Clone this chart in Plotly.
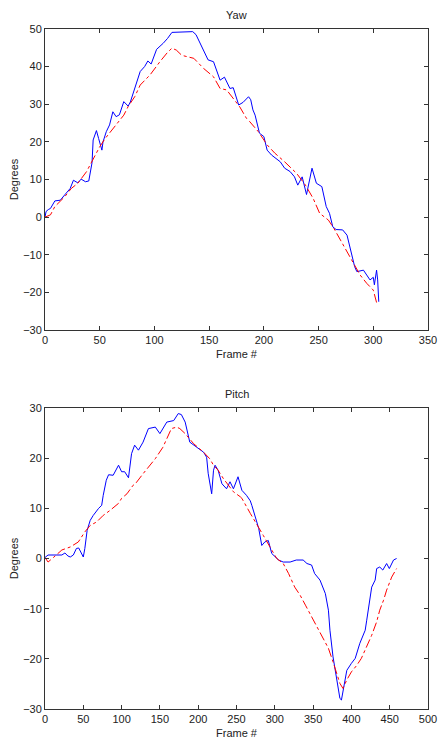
import plotly.graph_objects as go

# ---- Yaw data ----
yaw_obs_frame = [0,1,3,5,9,14,18,23,26,30,33,37,40,43,44,47,49,52,53,56,59,62,65,68,72,76,78,80,82,87,91,94,97,100,102,108,112,116,125,135,138,142,146,149,154,157,160,164,169,172,177,181,186,188,190,192,196,200,203,207,215,219,224,228,231,235,239,244,248,253,257,260,263,266,272,276,280,283,285,291,297,300,301,303,304,305]
yaw_obs_deg = [0,1.5,2,2.3,4.3,4.5,5.9,7.6,9.8,9.1,10.1,9.4,9.6,14.5,20.5,23,20.9,17.8,20,22.7,24.5,28,26.7,27.2,30.7,29.5,30.6,32.5,34,38.7,40,41.5,40.7,43,44.6,46.2,47.5,49.1,49.2,49.3,48.5,46.2,43.5,41.8,41.3,39,36.4,37.2,34.2,34.4,29.8,30.5,32,31.2,28.5,27.1,22.3,21.4,17.8,16.5,14.7,13,12.1,10.7,8.5,10.7,6,13,9,8.1,2.8,1,-2.6,-3.3,-3.4,-4.8,-9.2,-13.2,-14.5,-14.1,-16.7,-16,-18,-14.1,-16.7,-22.5]

yaw_est_frame = [0,3,5,9,18,24,30,38,44,50,55,61,67,72,76,82,87,96,105,112,116,120,125,130,136,140,145,154,160,166,172,178,184,187,195,203,210,219,230,238,245,251,259,264,270,276,282,288,294,300,303]
yaw_est_deg = [0,0.3,0.6,2.8,5.4,7.6,9,12.1,15.6,18.7,20.9,23.2,25.4,27.1,29.4,32,35.1,37.8,41.3,43.8,44.9,44.4,43,42.6,42.2,41,39.5,37.3,34.2,33.8,31.6,29.3,26.3,25.4,22.7,19.2,17,14.7,11.6,8.5,5,1,-0.8,-3,-6.1,-9.2,-12.3,-15.4,-17.6,-19.4,-22.7]

# ---- Pitch data ----
pitch_obs_frame = [0,4,22,26,30,33,37,41,44,48,50,52,55,59,63,70,74,76,80,83,89,96,100,104,109,113,117,122,128,135,144,150,159,168,174,178,183,189,198,207,211,213,217.6,220,222,226,231,237,241.5,246,252,257,263,268,270,274,279,283,287,291.5,296,305,311,320,328,337,342,348,352,359,366,370,372,376,381,385,387,389,394,400,405,411,418,420,422,426.5,431,433,437,441,446,449.5,455,459]
pitch_obs_deg = [0.2,0.7,0.7,1.1,0.5,0.3,0.7,2,2.1,0.7,0.3,2,5.6,7.6,8.6,10,10.6,12.6,15.6,16.7,16.6,18.6,17.3,17.3,16.1,20.9,22.6,21.6,23.2,25.9,26.2,24.9,27.2,27.5,28.9,28.7,27.2,23.2,22.2,21.2,20.2,17,12.9,17.6,18.6,17.6,14.9,13.9,15.3,13.9,16.3,13.6,12.6,11.5,10.6,8.6,6,2.6,3.3,3.6,1,-0.3,-0.7,-0.7,-0.3,-0.3,-1,-1.3,-3,-4.3,-7,-10.3,-14.3,-19.6,-24.2,-27.9,-28.2,-26.6,-22.3,-20.9,-19.9,-16.9,-14.3,-12.3,-10.3,-5.7,-4.3,-2,-1.7,-2.3,-1,-2,-0.3,0]

pitch_est_frame = [0,4,11,22,33,43.5,52,59,67.5,76,85,96,100,107,115,118,128,144,154,165,172,176,183,194,207,215,220,226,233,244,246,255,257,268,276,285,296,302.5,311,318,326,333,340,348,357,363,370,376,381,385,389,394,400,407,413,420,426.5,433,437,442,446,452.6,459]
pitch_est_deg = [0.2,-0.7,0.2,1.7,2.3,3.3,5.3,6.6,7.3,8.6,9.6,11,12,12.9,14.6,14.9,16.9,19.9,22.2,25.9,26.2,25.9,24.9,22.9,21.2,19.9,18.6,17.6,15.9,13.6,13.3,12.3,12,9,7,4.6,1.7,0,-1,-3,-5.7,-7.3,-9.3,-11.6,-14,-15.9,-17.9,-20.6,-22.9,-24.9,-25.9,-24.2,-22.6,-21.3,-19.9,-17.6,-15.3,-12.6,-10.3,-8.3,-6.3,-3.7,-2]

yaw_xticks = [0,50,100,150,200,250,300,350]
yaw_yticks = [-30,-20,-10,0,10,20,30,40,50]
pitch_xticks = [0,50,100,150,200,250,300,350,400,450,500]
pitch_yticks = [-30,-20,-10,0,10,20,30]

BLUE = "#0000ff"
RED = "#ff0000"
FONT = dict(family="Liberation Sans, Arial, sans-serif", size=11, color="#222222")

fig = go.Figure()
fig.add_trace(go.Scatter(x=yaw_obs_frame, y=yaw_obs_deg, mode="lines",
                         line=dict(color=BLUE, width=1), xaxis="x", yaxis="y"))
fig.add_trace(go.Scatter(x=yaw_est_frame, y=yaw_est_deg, mode="lines",
                         line=dict(color=RED, width=1, dash="dashdot"), xaxis="x", yaxis="y"))
fig.add_trace(go.Scatter(x=pitch_obs_frame, y=pitch_obs_deg, mode="lines",
                         line=dict(color=BLUE, width=1), xaxis="x2", yaxis="y2"))
fig.add_trace(go.Scatter(x=pitch_est_frame, y=pitch_est_deg, mode="lines",
                         line=dict(color=RED, width=1, dash="dashdot"), xaxis="x2", yaxis="y2"))

axis_common = dict(showgrid=False, zeroline=False, showline=True, linecolor="#333333",
                   linewidth=1, mirror="ticks", ticks="inside", ticklen=4,
                   tickcolor="#333333", tickfont=FONT, fixedrange=True, automargin=False,
                   ticklabeloverflow="allow")

fig.update_layout(
    width=438, height=740,
    margin=dict(l=45, r=10, t=29, b=31, autoexpand=False),
    paper_bgcolor="white", plot_bgcolor="white",
    showlegend=False,
    font=FONT,
    xaxis=dict(domain=[0, 1], anchor="y", range=[0, 350], tickvals=yaw_xticks,
               title=dict(text="Frame #", font=FONT, standoff=5), **axis_common),
    yaxis=dict(domain=[0.5574, 1], anchor="x", range=[-30, 50], tickvals=yaw_yticks,
               title=dict(text="Degrees", font=FONT, standoff=2), **axis_common),
    xaxis2=dict(domain=[0, 1], anchor="y2", range=[0, 500], tickvals=pitch_xticks,
                title=dict(text="Frame #", font=FONT, standoff=5), **axis_common),
    yaxis2=dict(domain=[0, 0.4426], anchor="x2", range=[-30, 30], tickvals=pitch_yticks,
                title=dict(text="Degrees", font=FONT, standoff=2), **axis_common),
    annotations=[
        dict(text="Yaw", x=0.5, y=1, xref="paper", yref="paper", xanchor="center",
             yanchor="bottom", yshift=6, showarrow=False, font=FONT),
        dict(text="Pitch", x=0.5, y=0.4426, xref="paper", yref="paper", xanchor="center",
             yanchor="bottom", yshift=6, showarrow=False, font=FONT),
    ],
)

# Remove the default page margin so the 438x740 figure fills the window exactly.
fig.write_html("out.html",
               config={"displayModeBar": False, "staticPlot": True},
               post_script="document.body.style.margin='0';document.body.style.overflow='hidden';")
